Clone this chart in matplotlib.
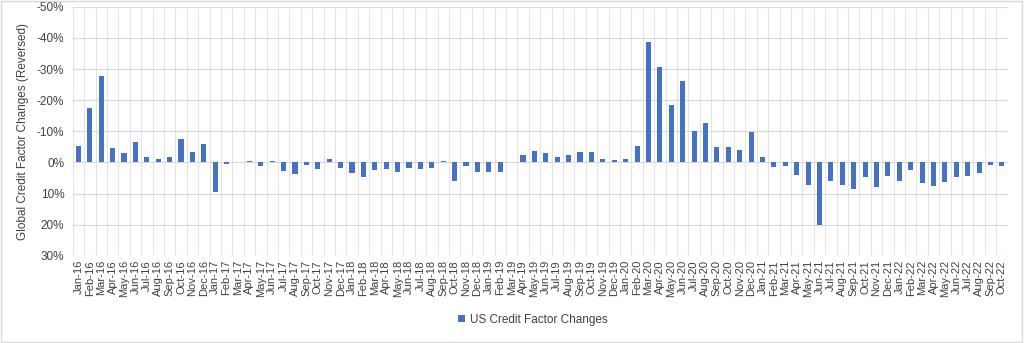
import numpy as np
import matplotlib.pyplot as plt
from matplotlib.ticker import FuncFormatter
from matplotlib.patches import Rectangle

plt.rcParams['font.family'] = ['Liberation Sans', 'DejaVu Sans']

months = ['Jan', 'Feb', 'Mar', 'Apr', 'May', 'Jun',
          'Jul', 'Aug', 'Sep', 'Oct', 'Nov', 'Dec']
labels = [f'{m}-{y}' for y in range(16, 23) for m in months][:82]

# monthly US credit factor changes, %
changes = [
    -5.2, -17.4, -27.7, -4.8, -3.1, -6.7, -1.9, -1.0, -1.9, -7.4, -3.3, -6.0,   # 2016
    9.4, 0.6, -0.2, -0.5, 1.0, -0.5, 2.6, 3.8, 0.9, 2.2, -1.2, 1.9,            # 2017
    3.5, 4.7, 2.4, 2.2, 3.1, 1.7, 2.2, 1.8, -0.5, 6.1, 1.2, 2.9,               # 2018
    3.0, 2.9, 0.0, -2.4, -3.8, -2.9, -1.8, -2.3, -3.4, -3.3, -1.2, -0.9,       # 2019
    -1.2, -5.3, -38.7, -30.8, -18.6, -26.1, -10.0, -12.8, -5.1, -4.9, -4.1, -9.9,  # 2020
    -1.7, 1.5, 1.0, 3.9, 7.2, 20.2, 6.0, 7.3, 8.4, 4.5, 8.0, 4.2,              # 2021
    5.9, 2.3, 6.5, 7.4, 6.3, 4.5, 4.3, 3.5, 0.8, 1.2,                         # 2022
]

fig = plt.figure(figsize=(10.24, 3.43), dpi=100)
ax = fig.add_axes([0.071, 0.254, 0.913, 0.726])

x = np.arange(len(labels))
ax.bar(x, np.array(changes) / 100, width=0.45, color='#4472C4',
       label='US Credit Factor Changes', zorder=3)


def pct(v, p):
    n = int(round(v * 100))
    return f'{n}%'


ax.set_xlim(-0.5, len(labels) - 0.5)
ax.set_ylim(0.3, -0.5)  # reversed
ax.set_yticks(np.arange(-0.5, 0.31, 0.1))
ax.yaxis.set_major_formatter(FuncFormatter(pct))
ax.set_xticks(x)
ax.set_xticklabels(labels, rotation=90, fontsize=8, color='#404040')
ax.tick_params(axis='y', labelsize=8.5, colors='#404040', length=0, pad=6)
ax.tick_params(axis='x', length=0, pad=3)

# gridlines: horizontal at ticks, vertical at category boundaries
ax.grid(axis='y', color='#d9d9d9', linewidth=0.8, zorder=0)
for b in np.arange(-0.5, len(labels), 1.0):
    ax.axvline(b, color='#e3e3e3', linewidth=0.8, zorder=0)
for s in ax.spines.values():
    s.set_visible(False)

ax.set_ylabel('Global Credit Factor Changes (Reversed)', fontsize=8.5, color='#404040',
              labelpad=6)

fig.legend(loc='lower center', bbox_to_anchor=(0.52, 0.02), frameon=False,
           fontsize=8.5, handlelength=0.6, handleheight=0.6, handletextpad=0.4,
           labelcolor='#404040')

fig.patches.append(Rectangle((0.001, 0.002), 0.997, 0.995, transform=fig.transFigure,
                             fill=False, edgecolor='#d9d9d9', linewidth=1))

fig.savefig('out.png', dpi=100)
